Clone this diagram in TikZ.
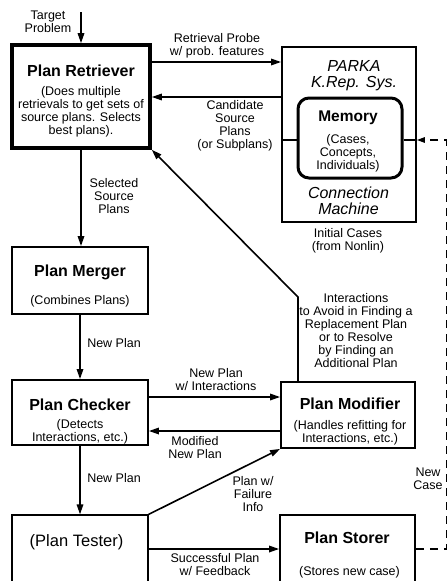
\documentclass[tikz,border=0pt]{standalone}
\usepackage{fontspec}
\setmainfont{Liberation Sans}
\usetikzlibrary{arrows.meta}
\begin{document}
\begin{tikzpicture}[x=1pt,y=-1pt,
  box/.style={draw, line width=1.8pt, inner sep=0pt},
  arr/.style={line width=1.6pt, -{Triangle[length=10pt,width=6.5pt]}},
  ln/.style={line width=1.6pt},
  dsh/.style={line width=1.3pt, dash pattern=on 8pt off 6pt, -{Triangle[length=8pt,width=5.5pt]}},
  lbl/.style={align=center, inner sep=0pt, font=\fontsize{12.5}{13}\selectfont},
  ttl/.style={inner sep=0pt, font=\fontsize{16}{18}\selectfont\bfseries},
  itl/.style={align=center, inner sep=0pt, font=\fontsize{16}{16}\selectfont\itshape}]
\useasboundingbox[fill=white] (0,0) rectangle (447,581);

% boxes
\node[box, line width=3.6pt, minimum width=138pt, minimum height=103pt] (ret) at (81,96.5) {};
\node[box, minimum width=134pt, minimum height=175pt] (parka) at (349,134.5) {};
\node[box, line width=3pt, rounded corners=11pt, minimum width=104pt, minimum height=80pt] (mem) at (350,138) {};
\node[box, minimum width=136pt, minimum height=67pt] (merger) at (80,280.5) {};
\node[box, minimum width=136pt, minimum height=65pt] (checker) at (80,412.5) {};
\node[box, minimum width=134pt, minimum height=66pt] (modifier) at (348,415) {};
\node[box, line width=1.2pt, minimum width=136pt, minimum height=90pt] (tester) at (80,560) {};
\node[box, minimum width=135pt, minimum height=90pt] (storer) at (347.5,560) {};

% box texts
\node[ttl] (retT) at (81,71) {Plan Retriever};
\node[lbl] (retS) at (81,112) {(Does multiple\\retrievals to get sets of\\source plans. Selects\\best plans).};
\node[itl] (parkaT) at (354,76) {PARKA\\K.Rep. Sys.};
\node[ttl, font=\fontsize{15.5}{18}\selectfont\bfseries] (memT) at (348,118) {Memory};
\node[lbl] (memS) at (348,153.5) {(Cases,\\Concepts,\\Individuals)};
\node[itl] (parkaB) at (348.5,200.5) {Connection\\Machine};
\node[ttl] (mergerT) at (80,272) {Plan Merger};
\node[lbl] (mergerS) at (80,301) {(Combines Plans)};
\node[ttl] (checkerT) at (80,405) {Plan Checker};
\node[lbl] (checkerS) at (80,432) {(Detects\\Interactions, etc.)};
\node[ttl] (modifierT) at (350,404) {Plan Modifier};
\node[lbl] (modifierS) at (350,432.5) {(Handles refitting for\\Interactions, etc.)};
\node[inner sep=0pt, font=\fontsize{16.5}{18}\selectfont] (testerT) at (76.5,542) {(Plan Tester)};
\node[ttl] (storerT) at (347,538) {Plan Storer};
\node[lbl] (storerS) at (349.5,572) {(Stores new case)};

% labels
\node[lbl] (lTarget) at (48,22) {Target\\Problem};
\node[lbl] (lProbe) at (217,46) {Retrieval Probe\\w/ prob. features};
\node[lbl] (lCand) at (235,126) {Candidate\\Source\\Plans\\(or Subplans)};
\node[lbl] (lInit) at (348,240.5) {Initial Cases\\(from Nonlin)};
\node[lbl] (lSel) at (114,196) {Selected\\Source\\Plans};
\node[lbl] (lNew1) at (114,343) {New Plan};
\node[lbl] (lInter) at (356,331) {Interactions\\to Avoid in Finding a\\Replacement Plan\\or to Resolve\\by Finding an\\Additional Plan};
\node[lbl] (lNewInt) at (216,379.5) {New Plan\\w/ Interactions};
\node[lbl] (lMod) at (195,447.5) {Modified\\New Plan};
\node[lbl] (lNew2) at (114,478) {New Plan};
\node[lbl] (lFail) at (253,494) {Plan w/\\Failure\\Info};
\node[lbl] (lSucc) at (215,564.5) {Successful Plan\\w/ Feedback};
\node[lbl] (lCase) at (428,479) {New\\Case};

% connectors
\coordinate (tgt) at (81,12);
\draw[arr] (tgt) -- (ret.north);
\draw[arr] (ret.east |- 0,62) -- (parka.west |- 0,62);
\draw[arr] (parka.west |- 0,97) -- (ret.east |- 0,97);
\draw[ln] (parka.west |- 0,140) -- (mem.west |- 0,140);
\draw[ln] (mem.east |- 0,140) -- (parka.east |- 0,140);
\coordinate (dA) at (446.5,549);
\coordinate (dB) at (446.5,140);
\draw[dsh] (storer.east |- dA) -- (dA) -- (dB) -- (parka.east |- dB);
\draw[arr] (ret.south) -- (ret.south |- merger.north);
\draw[arr] (merger.south) -- (checker.north);
\draw[arr] (checker.east |- 0,397) -- (modifier.west |- 0,397);
\draw[arr] (modifier.west |- 0,431) -- (checker.east |- 0,431);
\draw[arr] (checker.south) -- (tester.north);
\draw[arr] (tester.north east) -- (modifier.south west);
\draw[arr] (tester.east |- 0,549) -- (storer.west |- 0,549);
\coordinate (bend) at (298,297);
\draw[arr] (bend |- modifier.north) -- (bend) -- (ret.south east);
\end{tikzpicture}
\end{document}
